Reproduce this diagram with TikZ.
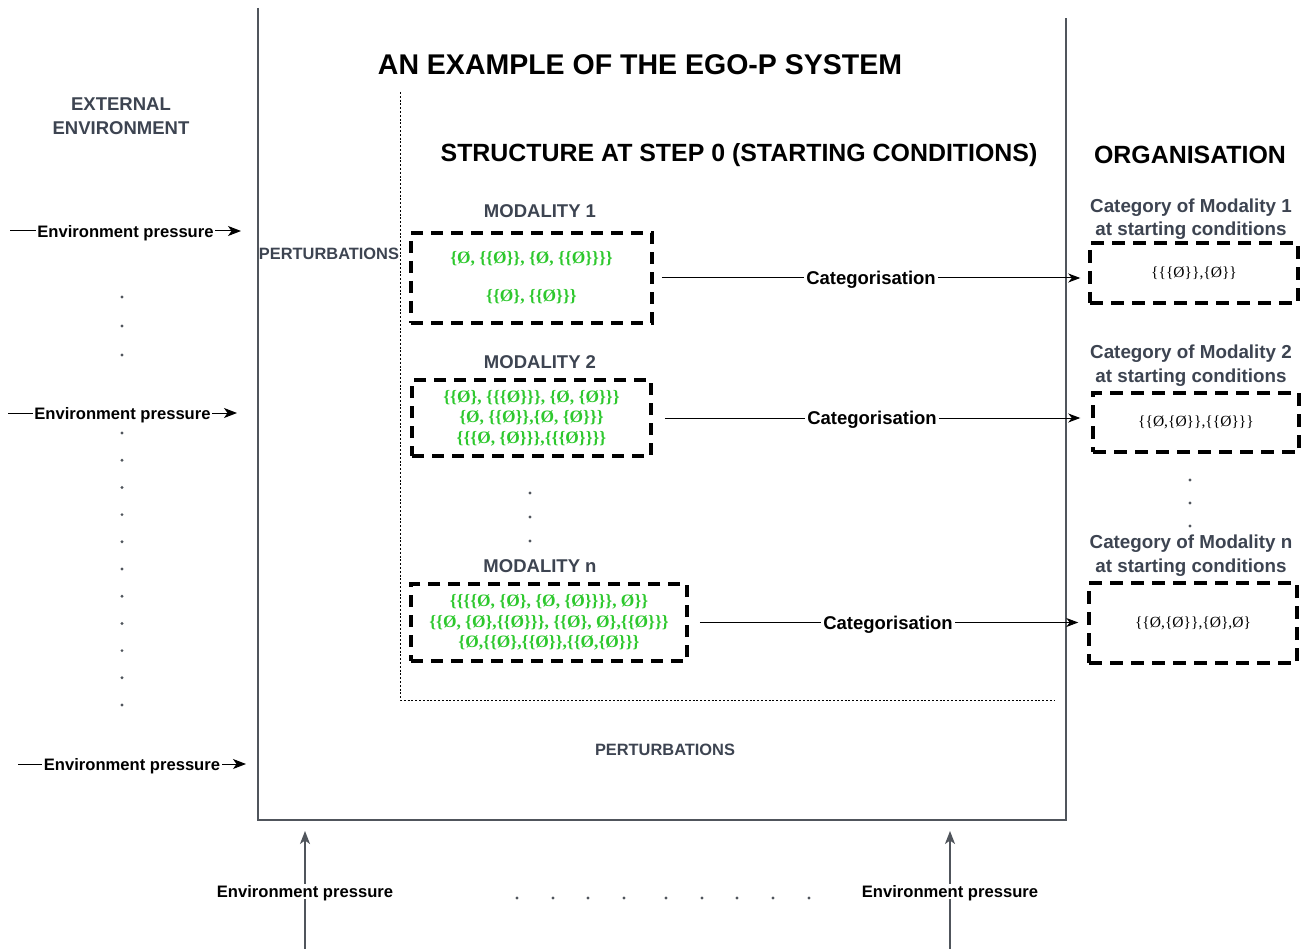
\documentclass[tikz,border=0pt]{standalone}
\usepackage{fontspec}
\setmainfont{Liberation Sans}
\newfontfamily\serifgr{Liberation Serif}
\usetikzlibrary{arrows.meta}
\definecolor{framegray}{HTML}{50555C}
\definecolor{headgray}{HTML}{3D4451}
\definecolor{setgreen}{HTML}{2DC82D}
\begin{document}
\begin{tikzpicture}[x=1pt,y=-1pt,
  framel/.style={draw=framegray,line width=2.5pt},
  dregion/.style={draw=black,line width=0.9pt,dash pattern=on 2pt off 1.8pt},
  setbox/.style={draw=black,line width=3.5pt,dash pattern=on 12pt off 8pt,inner sep=0pt,align=center,font=\serifgr\bfseries\fontsize{17.4}{20.5}\selectfont,text=setgreen},
  catbox/.style={draw=black,line width=3.5pt,dash pattern=on 13pt off 8pt,inner sep=0pt,align=center,font=\serifgr\fontsize{15.5}{19}\selectfont},
  bigtitle/.style={font=\bfseries\fontsize{28.5}{32}\selectfont,inner sep=0pt},
  headline/.style={font=\bfseries\fontsize{24.9}{28}\selectfont,inner sep=0pt},
  grayhead/.style={font=\bfseries\fontsize{18.5}{24}\selectfont,text=headgray,inner sep=0pt,align=center},
  perturb/.style={font=\bfseries\fontsize{16.4}{20}\selectfont,text=headgray,inner sep=0pt},
  catlabel/.style={font=\bfseries\fontsize{18.8}{23.5}\selectfont,text=headgray,inner sep=0pt,align=center},
  categ/.style={font=\bfseries\fontsize{18.5}{22}\selectfont,fill=white,inner sep=2pt,text depth=0pt},
  envp/.style={font=\bfseries\fontsize{16.6}{20}\selectfont,fill=white,inner sep=1.5pt,text depth=0pt},
  catarrow/.style={draw=black,line width=1pt,-{Stealth[length=12pt,width=9pt,inset=3.5pt]}},
  envarrow/.style={draw=black,line width=1pt,-{Stealth[length=13pt,width=10pt,inset=3.5pt]}},
  uparrow/.style={draw=framegray,line width=1.6pt,-{Stealth[length=13pt,width=10pt,inset=3.5pt]}},
  dotmark/.style={fill=framegray}
]
\useasboundingbox (0,0) rectangle (1308,949);
\fill[white] (0,0) rectangle (1308,949);

% frame lines
\coordinate (fTL) at (258,8);
\coordinate (fBL) at (258,820);
\coordinate (fBR) at (1066,820);
\coordinate (fTR) at (1066,18);
\draw[framel] (fTL) -- (fBL) -- (fBR) -- (fTR);

% dotted region
\coordinate (dT) at (400,92);
\coordinate (dC) at (400,700);
\coordinate (dR) at (1055,700);
\draw[dregion] (dT) -- (dC) -- (dR);

% titles
\node[bigtitle] (title) at (640,65) {AN EXAMPLE OF THE EGO-P SYSTEM};
\node[headline] (struct) at (739,155) {STRUCTURE AT STEP 0 (STARTING CONDITIONS)};
\node[headline] (org) at (1190,155) {ORGANISATION};
\node[grayhead] (ext) at (121,116.5) {EXTERNAL\\ENVIRONMENT};
\node[perturb] (pert1) at (329,254) {PERTURBATIONS};
\node[perturb] (pert2) at (665,750) {PERTURBATIONS};

% modalities
\node[grayhead] (m1) at (540,211) {MODALITY 1};
\node[grayhead] (m2) at (540,362) {MODALITY 2};
\node[grayhead] (mn) at (540,566) {MODALITY n};

\node[setbox,minimum width=241pt,minimum height=90pt] (box1) at (531.5,278)
  {\{Ø, \{\{Ø\}\}, \{Ø, \{\{Ø\}\}\}\}\\[17pt]\{\{Ø\}, \{\{Ø\}\}\}};
\node[setbox,minimum width=239pt,minimum height=76pt] (box2) at (531.5,418)
  {\{\{Ø\}, \{\{\{Ø\}\}\}, \{Ø, \{Ø\}\}\}\\\{Ø, \{\{Ø\}\},\{Ø, \{Ø\}\}\}\\\{\{\{Ø, \{Ø\}\}\},\{\{\{Ø\}\}\}\}};
\node[setbox,minimum width=276pt,minimum height=77pt] (boxn) at (549,622.5)
  {\{\{\{\{Ø, \{Ø\}, \{Ø, \{Ø\}\}\}\}, Ø\}\}\\\{\{Ø, \{Ø\},\{\{Ø\}\}\}, \{\{Ø\}, Ø\},\{\{Ø\}\}\}\\\{Ø,\{\{Ø\},\{\{Ø\}\},\{\{Ø,\{Ø\}\}\}};

% categories
\node[catlabel] (c1l) at (1191,219) {Category of Modality 1\\at starting conditions};
\node[catlabel] (c2l) at (1191,365.5) {Category of Modality 2\\at starting conditions};
\node[catlabel] (cnl) at (1191,555.5) {Category of Modality n\\at starting conditions};

\node[catbox,minimum width=208pt,minimum height=60pt] (cat1) at (1194,273) {\{\{\{Ø\}\},\{Ø\}\}};
\node[catbox,minimum width=206pt,minimum height=59pt] (cat2) at (1196,422.5) {\{\{Ø,\{Ø\}\},\{\{Ø\}\}\}};
\node[catbox,minimum width=208pt,minimum height=80pt] (catn) at (1193,623) {\{\{Ø,\{Ø\}\},\{Ø\},Ø\}};

% categorisation arrows
\draw[catarrow,shorten <=8pt,shorten >=8pt] (box1.east) -- node[categ] (k1) {Categorisation} (box1.east -| cat1.west);
\draw[catarrow,shorten <=12pt,shorten >=11pt] (box2.east) -- node[categ] (k2) {Categorisation} (box2.east -| cat2.west);
\draw[catarrow,shorten <=11pt,shorten >=9pt] (boxn.east) -- node[categ] (kn) {Categorisation} (boxn.east -| catn.west);

% left environment pressure arrows
\coordinate (l1s) at (10,231);  \coordinate (l1e) at (241,231);
\coordinate (l2s) at (8,413);   \coordinate (l2e) at (237,413);
\coordinate (l3s) at (18,764);  \coordinate (l3e) at (246,764);
\draw[envarrow] (l1s) -- node[envp] (e1) {Environment pressure} (l1e);
\draw[envarrow] (l2s) -- node[envp] (e2) {Environment pressure} (l2e);
\draw[envarrow] (l3s) -- node[envp] (e3) {Environment pressure} (l3e);

% bottom arrows
\coordinate (b1s) at (305,949); \coordinate (b1e) at (305,831);
\coordinate (b2s) at (950,949); \coordinate (b2e) at (950,831);
\draw[uparrow] (b1s) -- node[envp,pos=0.49] (e4) {Environment pressure} (b1e);
\draw[uparrow] (b2s) -- node[envp,pos=0.49] (e5) {Environment pressure} (b2e);

% dots
\foreach \yy in {297,326,355} \fill[dotmark] (122,\yy) circle (1.6pt);
\foreach \k in {0,...,10} \fill[dotmark] (122,433+27.2*\k) circle (1.6pt);
\foreach \yy in {493,517,541} \fill[dotmark] (530,\yy) circle (1.6pt);
\foreach \yy in {480,503,526} \fill[dotmark] (1190,\yy) circle (1.6pt);
\foreach \xx in {517,553,588,624,666,702,737,773,809} \fill[dotmark] (\xx,898) circle (1.6pt);
\end{tikzpicture}
\end{document}
